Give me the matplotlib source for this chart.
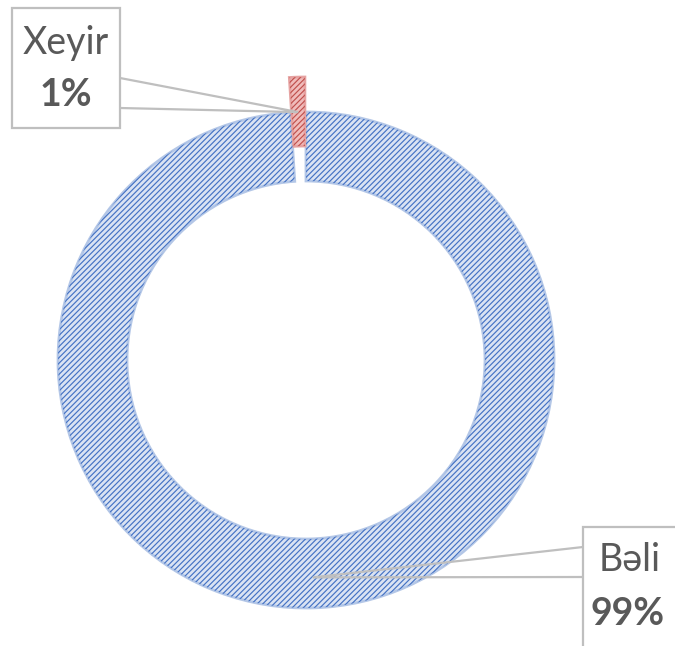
import matplotlib as mpl
import matplotlib.pyplot as plt
from matplotlib.patches import Rectangle
import numpy as np

mpl.use('Agg')
mpl.rcParams['hatch.linewidth'] = 0.85
mpl.rcParams['font.family'] = ['Lato', 'Noto Sans', 'DejaVu Sans']

# data
labels = ["Bəli", "Xeyir"]
shares = [99, 1]
pct_labels = ["99%", "1%"]

fill_colors = ["#dae3f3", "#f0bcbb"]
edge_colors = ["#b4c7e7", "#e6a3a2"]
hatch_colors = ["#4472c4", "#c0504d"]
text_col = "#595959"
line_col = "#bfbfbf"

W, H = 675, 646
fig = plt.figure(figsize=(W / 100, H / 100), dpi=100)
ax = fig.add_axes([0, 0, 1, 1])

cx, cy = 306, H - 360
r_out = 248
ring = 69
explode = [0, 35]

# base fill
base, _ = ax.pie(shares, startangle=90, counterclock=False, radius=r_out, center=(cx, cy),
                 explode=explode, colors=fill_colors,
                 wedgeprops=dict(width=ring, linewidth=2))
for w, ec in zip(base, edge_colors):
    w.set_edgecolor(ec)
# hatch layer on top
wedges, _ = ax.pie(shares, startangle=90, counterclock=False, radius=r_out, center=(cx, cy),
                   explode=explode, colors=["none", "none"],
                   wedgeprops=dict(width=ring, linewidth=0))
for w, hc in zip(wedges, hatch_colors):
    w.set_hatch("//////")
    w.set_edgecolor(hc)
    w.set_linewidth(0)

# where the leader lines point: middle angle of each slice
ang = []
start = 90.0
for s in shares:
    span = 360.0 * s / sum(shares)
    ang.append(np.deg2rad(start - span / 2))
    start -= span

anchor_r = [r_out - ring / 2 + 4, r_out]
anchors = [(cx + rr * np.cos(a), cy + rr * np.sin(a)) for rr, a in zip(anchor_r, ang)]

# callout boxes (left, top, right, bottom in pixels from top-left) and leader attach y's
boxes = [(583, 527, 690, 660), (12, 8, 120, 128)]
attach = [(583, 547, 577), (120, 78, 108)]
text_pos = [((630, 560), (628, 614)), ((66, 43), (66, 95))]

for i in range(len(labels)):
    l, t, r, b = boxes[i]
    ax.add_patch(Rectangle((l, H - b), r - l, b - t, facecolor="white",
                           edgecolor=line_col, linewidth=1.6, zorder=5))
    ax_, y1, y2 = attach[i]
    axx, ayy = anchors[i]
    ax.plot([ax_, axx, ax_], [H - y1, ayy, H - y2], color=line_col, lw=1.6, zorder=4,
            solid_joinstyle="miter")
    (tx1, ty1), (tx2, ty2) = text_pos[i]
    ax.text(tx1, H - ty1, labels[i], ha="center", va="center", fontsize=27,
            color=text_col, zorder=6)
    ax.text(tx2, H - ty2, pct_labels[i], ha="center", va="center", fontsize=27,
            fontweight="bold", color=text_col, zorder=6)

ax.set_xlim(0, W)
ax.set_ylim(0, H)
ax.set_axis_off()

fig.savefig("out.png", dpi=100)
